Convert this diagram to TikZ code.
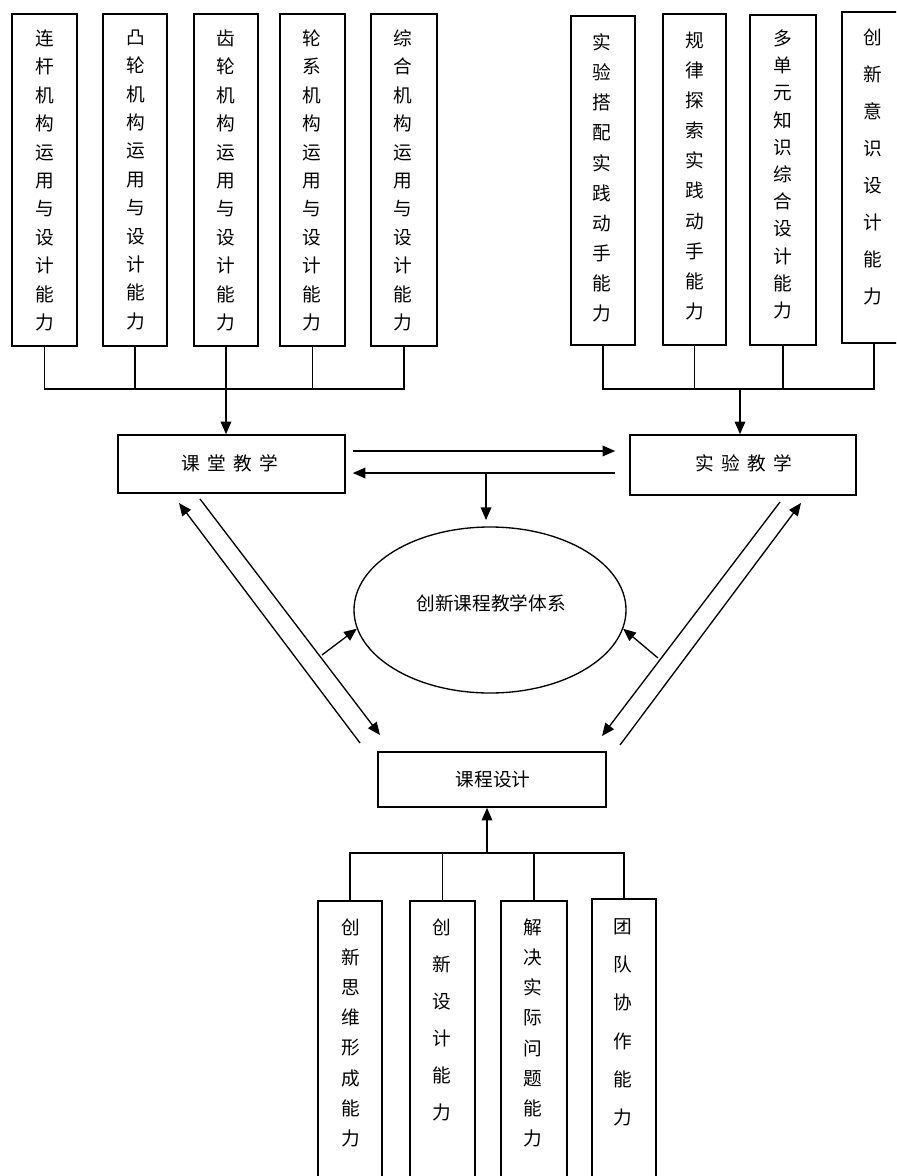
\documentclass[tikz,border=0pt]{standalone}
\usepackage{fontspec}
\newfontfamily\cjk{Noto Sans CJK SC}
\usetikzlibrary{arrows.meta,shapes.geometric}
\begin{document}
\begin{tikzpicture}[x=0.75pt,y=-0.75pt,
  vbox/.style={draw, line width=1.2pt, inner sep=0pt},
  vt/.style={font=\cjk\fontsize{14pt}{#1}\selectfont, align=center, anchor=north, inner sep=0pt},
  ht/.style={font=\cjk\fontsize{14pt}{16pt}\selectfont, inner sep=0pt},
  arr/.style={-{Triangle[length=9.5pt,width=8pt]}, line width=1pt},
  ln/.style={line width=1pt}]
\useasboundingbox (0,0) rectangle (896,1176);
\clip (0,0) rectangle (896,1176);

% top-left boxes
\node[vbox, minimum width=48.75pt, minimum height=249pt] (L1) at (44.5,180) {};
\node[vbox, minimum width=48pt, minimum height=249pt] (L2) at (135,180) {};
\node[vbox, minimum width=48pt, minimum height=249pt] (L3) at (226,180) {};
\node[vbox, minimum width=48.75pt, minimum height=249pt] (L4) at (312.5,180) {};
\node[vbox, minimum width=49.5pt, minimum height=249pt] (L5) at (404,180) {};
\node[vt=21.3pt] (L1t) at (45,29.5) {连\\杆\\机\\构\\运\\用\\与\\设\\计\\能\\力};
\node[vt=21.3pt] (L2t) at (136,29.5) {凸\\轮\\机\\构\\运\\用\\与\\设\\计\\能\\力};
\node[vt=21.3pt] (L3t) at (226,29.5) {齿\\轮\\机\\构\\运\\用\\与\\设\\计\\能\\力};
\node[vt=21.3pt] (L4t) at (312,29.5) {轮\\系\\机\\构\\运\\用\\与\\设\\计\\能\\力};
\node[vt=21.3pt] (L5t) at (403,29.5) {综\\合\\机\\构\\运\\用\\与\\设\\计\\能\\力};

% top-right boxes
\node[vbox, minimum width=48pt, minimum height=246.75pt] (R1) at (603,180.5) {};
\node[vbox, minimum width=47.25pt, minimum height=248.25pt] (R2) at (694.5,179.5) {};
\node[vbox, minimum width=49.5pt, minimum height=247.5pt] (R3) at (783,180) {};
\node[vbox, minimum width=48pt, minimum height=248.25pt] (R4) at (874,177.5) {};
\node[vt=22.6pt] (R1t) at (602,33.5) {实\\验\\搭\\配\\实\\践\\动\\手\\能\\力};
\node[vt=22.6pt] (R2t) at (695,31.5) {规\\律\\探\\索\\实\\践\\动\\手\\能\\力};
\node[vt=20.4pt] (R3t) at (783,29.5) {多\\单\\元\\知\\识\\综\\合\\设\\计\\能\\力};
\node[vt=27.8pt] (R4t) at (873,28.5) {创\\新\\意\\识\\设\\计\\能\\力};

% middle boxes
\node[vbox, minimum width=170.25pt, minimum height=43.5pt] (ketang) at (231.5,464) {};
\node[ht] (ketangt) at (230,463) {课\kern5.5pt 堂\kern5.5pt 教\kern5.5pt 学};
\node[vbox, minimum width=169.5pt, minimum height=45pt] (shiyan) at (743,465) {};
\node[ht] (shiyant) at (744,463) {实\kern5.5pt 验\kern5.5pt 教\kern5.5pt 学};
\node[draw, line width=1pt, ellipse, inner sep=0pt, minimum width=204pt, minimum height=124.5pt] (ell) at (490,610) {};
\node[ht] (ellt) at (491,603) {创新课程教学体系};
\node[vbox, minimum width=171pt, minimum height=41.25pt] (kcsj) at (492,779.5) {};
\node[ht] (kcsjt) at (493,779) {课程设计};

% bottom boxes
\node[vbox, minimum width=48pt, minimum height=224.25pt] (B1) at (350,1050.5) {};
\node[vbox, minimum width=48.75pt, minimum height=224.25pt] (B2) at (442.5,1050.5) {};
\node[vbox, minimum width=49.5pt, minimum height=224.25pt] (B3) at (534,1050.5) {};
\node[vbox, minimum width=48pt, minimum height=225.75pt] (B4) at (624,1049.5) {};
\node[vt=22.6pt] (B1t) at (351,918.5) {创\\新\\思\\维\\形\\成\\能\\力};
\node[vt=27.75pt] (B2t) at (442,918.5) {创\\新\\设\\计\\能\\力};
\node[vt=22.6pt] (B3t) at (533,918.5) {解\\决\\实\\际\\问\\题\\能\\力};
\node[vt=28.6pt] (B4t) at (623,918.5) {团\\队\\协\\作\\能\\力};

% top-left bus
\coordinate (busL) at (226,389);
\draw[ln] (L1.south) -- (L1.south |- busL) -- (L5.south |- busL) -- (L5.south);
\foreach \n in {L2,L3,L4} \draw[ln] (\n.south) -- (\n.south |- busL);
\draw[arr] (busL) -- (busL |- ketang.north);

% top-right bus
\coordinate (busR) at (740,389);
\draw[ln] (R1.south) -- (R1.south |- busR) -- (R4.south |- busR) -- (R4.south);
\foreach \n in {R2,R3} \draw[ln] (\n.south) -- (\n.south |- busR);
\draw[arr] (busR) -- (busR |- shiyan.north);

% between teaching boxes
\draw[arr] ([shift={(7,-13)}]ketang.east) -- ([shift={(-14,-14)}]shiyan.west);
\draw[arr] ([shift={(-14,8)}]shiyan.west) -- ([shift={(7,9)}]ketang.east);
\coordinate (mid) at (486,473);
\coordinate (midE) at (486,520);
\draw[arr] (mid) -- (midE);

% diagonals
\coordinate (a1) at (360,743);
\coordinate (a2) at (179,503);
\coordinate (b1) at (200,499);
\coordinate (b2) at (380,735);
\coordinate (c1) at (322,655);
\coordinate (d1) at (780,502);
\coordinate (d2) at (602,736);
\coordinate (e1) at (620,745);
\coordinate (e2) at (801,503);
\coordinate (f1) at (658,658);
\draw[arr] (a1) -- (a2);
\draw[arr] (b1) -- (b2);
\draw[arr] (c1) -- (ell.188);
\draw[arr] (d1) -- (d2);
\draw[arr] (e1) -- (e2);
\draw[arr] (f1) -- (ell.352);

% bottom bus
\coordinate (busB) at (487,853);
\draw[ln] (B1.north) -- (B1.north |- busB) -- (B4.north |- busB) -- (B4.north);
\foreach \n in {B2,B3} \draw[ln] (\n.north) -- (\n.north |- busB);
\draw[arr] (busB) -- (busB |- kcsj.south);
\end{tikzpicture}
\end{document}
